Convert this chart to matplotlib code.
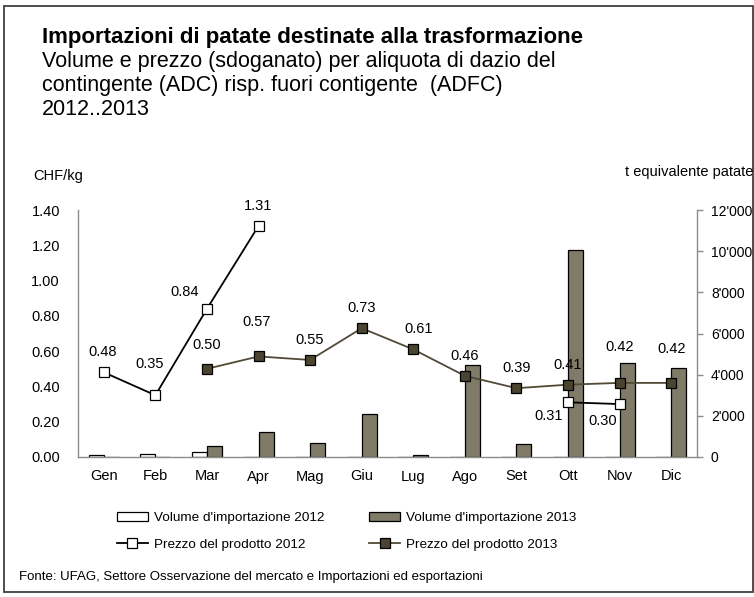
import numpy as np
import matplotlib
matplotlib.use("Agg")
import matplotlib.pyplot as plt
from matplotlib.patches import Rectangle
from matplotlib.lines import Line2D
from matplotlib.patches import Patch

plt.rcParams['font.family'] = ['Liberation Sans', 'DejaVu Sans']

months = ["Gen", "Feb", "Mar", "Apr", "Mag", "Giu", "Lug", "Ago", "Set", "Ott", "Nov", "Dic"]
vol_2012 = [90, 130, 220, 15, 0, 15, 0, 0, 0, 15, 15, 0]
vol_2013 = [0, 0, 550, 1230, 670, 2070, 100, 4470, 630, 10080, 4550, 4310]
price_2012 = [0.48, 0.35, 0.84, 1.31, None, None, None, None, None, 0.31, 0.30, None]
price_2013 = [None, None, 0.50, 0.57, 0.55, 0.73, 0.61, 0.46, 0.39, 0.41, 0.42, 0.42]
price_ticks = [0.0, 0.2, 0.4, 0.6, 0.8, 1.0, 1.2, 1.4]
vol_ticks = [0, 2000, 4000, 6000, 8000, 10000, 12000]
vol_tick_labels = ["0", "2'000", "4'000", "6'000", "8'000", "10'000", "12'000"]

# label offsets (pixels) for price labels
off_2012 = [(-1, 20), (-6, 31), (-22, 17), (0, 20), None, None, None, None, None, (-19, -14), (-17, -17), None]
off_2013 = [None, None, (0, 24), (-2, 34), (-1, 20), (0, 20), (5, 20), (0, 20), (0, 20), (0, 20), (0, 36), (0, 34)]

W, H = 754, 597
fig = plt.figure(figsize=(W / 100, H / 100), dpi=100)

# outer frame
fig.patches.append(Rectangle((4 / W, 1 - 592 / H), (753 - 4) / W, (592 - 6) / H,
                             transform=fig.transFigure, fill=False, edgecolor='#404040',
                             linewidth=1.3, zorder=0))

ax_l, ax_r, ax_t, ax_b = 78, 697, 210, 457
ax = fig.add_axes([ax_l / W, 1 - ax_b / H, (ax_r - ax_l) / W, (ax_b - ax_t) / H])
ax2 = ax.twinx()
ax.set_zorder(ax2.get_zorder() + 1)
ax.patch.set_visible(False)

x = np.arange(len(months))
bw = 0.29
ax2.bar(x - bw / 2, vol_2012, width=bw, color='white', edgecolor='black', linewidth=0.9)
ax2.bar(x + bw / 2, vol_2013, width=bw, color='#7f7b68', edgecolor='black', linewidth=0.9)

p12 = np.array([np.nan if v is None else v for v in price_2012])
p13 = np.array([np.nan if v is None else v for v in price_2013])
ax.plot(x, p12, color='black', linewidth=1.3, marker='s', markersize=6.5,
        markerfacecolor='white', markeredgecolor='black', markeredgewidth=0.9)
ax.plot(x, p13, color='#504a36', linewidth=1.3, marker='s', markersize=6.5,
        markerfacecolor='#4a4430', markeredgecolor='black', markeredgewidth=0.9)

for xi, v, o in zip(x, price_2012, off_2012):
    if v is not None:
        ax.annotate(f"{v:.2f}", (xi, v), xytext=o, textcoords='offset pixels',
                    ha='center', va='center', fontsize=10.5, color='black')
for xi, v, o in zip(x, price_2013, off_2013):
    if v is not None:
        ax.annotate(f"{v:.2f}", (xi, v), xytext=o, textcoords='offset pixels',
                    ha='center', va='center', fontsize=10.5, color='black')

ax.set_xlim(-0.5, len(months) - 0.5)
ax.set_ylim(0, 1.4)
ax2.set_ylim(0, 12000)
ax.set_yticks(price_ticks)
ax.set_yticklabels([f"{t:.2f}" for t in price_ticks])
ax2.set_yticks(vol_ticks)
ax2.set_yticklabels(vol_tick_labels)
ax.set_xticks(x)
ax.set_xticklabels(months)

for a in (ax, ax2):
    for s in a.spines.values():
        s.set_visible(False)
ax.spines['left'].set_visible(True)
ax.spines['bottom'].set_visible(True)
ax2.spines['right'].set_visible(True)
for s in (ax.spines['left'], ax.spines['bottom'], ax2.spines['right']):
    s.set_color('#8c8c8c')
    s.set_linewidth(1.0)

ax.tick_params(axis='y', length=0, pad=13, labelsize=10.5)
ax.tick_params(axis='x', length=0, pad=9, labelsize=10.5)
ax2.tick_params(axis='y', length=4, width=1.0, color='#8c8c8c', pad=6, labelsize=10)

fig.text(33 / W, 1 - 176 / H, "CHF/kg", fontsize=10.5, va='center', ha='left')
fig.text(625 / W, 1 - 172 / H, "t equivalente patate", fontsize=10.5, va='center', ha='left')

# titles
fig.text(42 / W, 1 - 43 / H, "Importazioni di patate destinate alla trasformazione",
         fontsize=16, fontweight='bold', va='baseline', ha='left')
sub = ["Volume e prezzo (sdoganato) per aliquota di dazio del",
       "contingente (ADC) risp. fuori contigente  (ADFC)",
       "2012..2013"]
fig.text(42 / W, 1 - 115 / H, "\n".join(sub), fontsize=15.5, va='baseline', ha='left',
         linespacing=1.18)

handles = [Patch(facecolor='white', edgecolor='black', linewidth=0.9),
           Line2D([], [], color='black', linewidth=1.3, marker='s', markersize=6.5,
                  markerfacecolor='white', markeredgecolor='black', markeredgewidth=0.9),
           Patch(facecolor='#7f7b68', edgecolor='black', linewidth=0.9),
           Line2D([], [], color='#504a36', linewidth=1.3, marker='s', markersize=6.5,
                  markerfacecolor='#4a4430', markeredgecolor='black', markeredgewidth=0.9)]
labels = ["Volume d'importazione 2012", "Prezzo del prodotto 2012",
          "Volume d'importazione 2013", "Prezzo del prodotto 2013"]
leg = fig.legend(handles, labels, ncol=2, frameon=False, fontsize=9.7,
                 loc='upper left', bbox_to_anchor=(117 / W, 1 - 512 / H),
                 handlelength=2.3, handleheight=0.6, handletextpad=0.44,
                 columnspacing=3.33, labelspacing=1.08, borderpad=0, borderaxespad=0)

fig.text(19 / W, 1 - 577 / H,
         "Fonte: UFAG, Settore Osservazione del mercato e Importazioni ed esportazioni",
         fontsize=9.5, va='center', ha='left')

fig.savefig("out.png", dpi=100)
